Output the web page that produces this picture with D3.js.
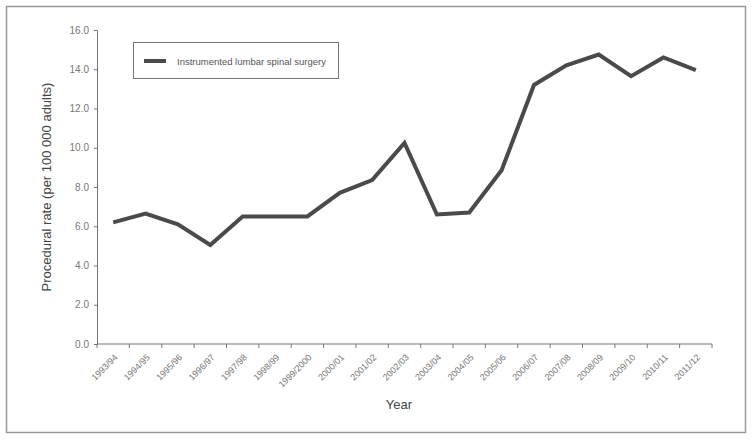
<!DOCTYPE html>
<html>
<head>
<meta charset="utf-8">
<script src="https://cdn.jsdelivr.net/npm/d3@7"></script>
<style>
  body { margin: 0; background: #fff; }
  text { font-family: "Liberation Sans", Arial, sans-serif; }
</style>
</head>
<body>
<svg id="chart" width="753" height="440"></svg>
<script>
// data
var years = ["1993/94", "1994/95", "1995/96", "1996/97", "1997/98", "1998/99", "1999/2000",
  "2000/01", "2001/02", "2002/03", "2003/04", "2004/05", "2005/06", "2006/07", "2007/08",
  "2008/09", "2009/10", "2010/11", "2011/12"];
var rates = [6.2, 6.65, 6.1, 5.05, 6.5, 6.5, 6.5, 7.7, 8.35, 10.25, 6.6, 6.7, 8.85, 13.2,
  14.2, 14.75, 13.65, 14.6, 13.95];
var yTicks = [0, 2, 4, 6, 8, 10, 12, 14, 16];
var seriesName = "Instrumented lumbar spinal surgery";

var svg = d3.select("#chart");
// plot area edges (note: "top" is taken by window.top)
var plotLeft = 97, plotRight = 712, plotTop = 30, plotBottom = 344;

// outer frame
svg.append("rect")
  .attr("x", 6.5).attr("y", 6.5)
  .attr("width", 739).attr("height", 426)
  .attr("fill", "none").attr("stroke", "#999").attr("stroke-width", 1.5);

var x = d3.scaleBand().domain(years).range([plotLeft, plotRight]);
var y = d3.scaleLinear().domain([0, 16]).range([plotBottom, plotTop]);

// y axis
var yAxis = svg.append("g")
  .attr("transform", "translate(" + plotLeft + ",0)")
  .call(d3.axisLeft(y).tickValues(yTicks).tickFormat(d3.format(".1f")).tickSize(3).tickPadding(5));
yAxis.select(".domain").attr("stroke", "#777");
yAxis.selectAll(".tick line").attr("stroke", "#777");
yAxis.selectAll("text").attr("fill", "#777").style("font-size", "10px");

// x axis: ticks at band edges, labels at band centres
var edges = years.map(function (d) { return x(d); }).concat([plotRight]);
var xg = svg.append("g").attr("transform", "translate(0," + plotBottom + ")");
xg.append("line").attr("x1", plotLeft).attr("x2", plotRight)
  .attr("stroke", "#777");
xg.selectAll(".edge").data(edges).enter().append("line")
  .attr("x1", function (d) { return d; }).attr("x2", function (d) { return d; })
  .attr("y1", 0).attr("y2", 4).attr("stroke", "#777");
xg.selectAll(".lab").data(years).enter().append("text")
  .attr("transform", function (d) {
    return "translate(" + (x(d) + x.bandwidth() / 2 + 5) + ",14) rotate(-45)";
  })
  .attr("text-anchor", "end")
  .attr("fill", "#777")
  .style("font-size", "9px")
  .text(function (d) { return d; });

// axis titles
svg.append("text")
  .attr("transform", "translate(51," + (plotTop + plotBottom) / 2 + ") rotate(-90)")
  .attr("text-anchor", "middle")
  .attr("fill", "#444")
  .style("font-size", "13px")
  .text("Procedural rate (per 100 000 adults)");
svg.append("text")
  .attr("x", 399).attr("y", 409)
  .attr("text-anchor", "middle")
  .attr("fill", "#444")
  .style("font-size", "13px")
  .text("Year");

// line
var line = d3.line()
  .x(function (d, i) { return x(years[i]) + x.bandwidth() / 2; })
  .y(function (d) { return y(d); });
svg.append("path")
  .datum(rates)
  .attr("d", line)
  .attr("fill", "none")
  .attr("stroke", "#4a4a4a")
  .attr("stroke-width", 4)
  .attr("stroke-linejoin", "miter");

// legend
var lg = svg.append("g");
lg.append("rect")
  .attr("x", 133.5).attr("y", 42.5).attr("width", 205).attr("height", 36)
  .attr("fill", "#fff").attr("stroke", "#777");
lg.append("line")
  .attr("x1", 144).attr("x2", 166).attr("y1", 61).attr("y2", 61)
  .attr("stroke", "#4a4a4a").attr("stroke-width", 4);
lg.append("text")
  .attr("x", 177).attr("y", 64.5)
  .attr("fill", "#555")
  .style("font-size", "9.5px")
  .text(seriesName);
</script>
</body>
</html>
